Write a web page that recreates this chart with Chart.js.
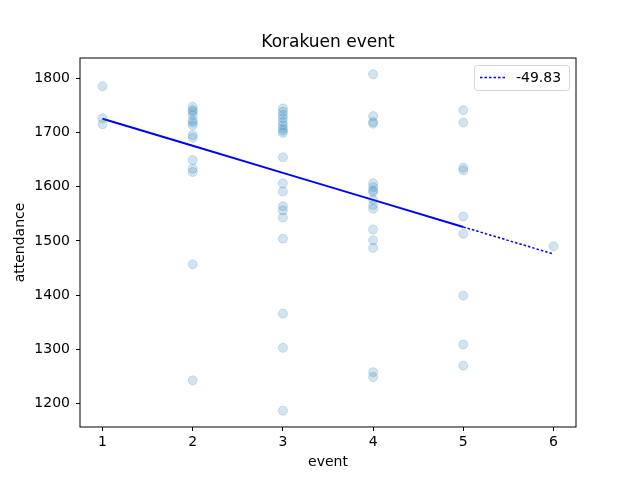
<!DOCTYPE html>
<html>
<head>
<meta charset="utf-8">
<script src="https://cdn.jsdelivr.net/npm/chart.js@4.4.0/dist/chart.umd.min.js"></script>
<style>
  html, body { margin: 0; padding: 0; background: #fff; }
  #wrap { width: 640px; height: 480px; }
</style>
</head>
<body>
<div id="wrap"><canvas id="eventChart"></canvas></div>
<script>
// attendance per match, grouped by event number
const events = [1, 2, 3, 4, 5, 6];
const attendanceByEvent = [
    [1785, 1726, 1715],
    [1747, 1741, 1738, 1732, 1722, 1718, 1713, 1695, 1690, 1649, 1633, 1627, 1457, 1243],
    [1744, 1738, 1732, 1726, 1719, 1713, 1707, 1703, 1699, 1654, 1606, 1591, 1564, 1556, 1543, 1504, 1366, 1303, 1187],
    [1807, 1730, 1719, 1716, 1606, 1599, 1593, 1590, 1576, 1566, 1559, 1521, 1501, 1487, 1258, 1249],
    [1741, 1718, 1635, 1630, 1545, 1513, 1399, 1309, 1270],
    [1490]
];
const slope = -49.83;
const intercept = 1774.8;
const xTicks = [1, 2, 3, 4, 5, 6];
const yTicks = [1200, 1300, 1400, 1500, 1600, 1700, 1800];

const FONT = "'DejaVu Sans', sans-serif";

const scatterPts = [];
events.forEach((ev, i) => {
    attendanceByEvent[i].forEach(v => scatterPts.push({ x: ev, y: v }));
});
const fitPts = events.map(x => ({ x: x, y: intercept + slope * x }));

// title, frame round the plot and the legend box
const framePlugin = {
    id: 'frame',
    afterDraw(chart) {
        const { ctx, chartArea: a } = chart;
        ctx.save();
        ctx.fillStyle = '#000';
        ctx.font = '17px ' + FONT;
        ctx.textAlign = 'center';
        ctx.textBaseline = 'middle';
        ctx.fillText('Korakuen event', (a.left + a.right) / 2, 43);

        ctx.strokeStyle = '#000';
        ctx.lineWidth = 1;
        ctx.strokeRect(a.left, a.top, a.right - a.left, a.bottom - a.top);

        const bx = 474.5, by = 65.5, bw = 95, bh = 25;
        ctx.fillStyle = 'rgba(255,255,255,0.8)';
        ctx.strokeStyle = '#d6d6d6';
        ctx.beginPath();
        ctx.roundRect(bx, by, bw, bh, 3);
        ctx.fill();
        ctx.stroke();
        ctx.strokeStyle = '#0000ff';
        ctx.lineWidth = 1.5;
        ctx.setLineDash([2.5, 2]);
        ctx.beginPath();
        ctx.moveTo(480, 77.5);
        ctx.lineTo(507, 77.5);
        ctx.stroke();
        ctx.setLineDash([]);
        ctx.fillStyle = '#000';
        ctx.font = '14px ' + FONT;
        ctx.textAlign = 'left';
        ctx.fillText(slope.toFixed(2), 516, 78);
        ctx.restore();
    }
};

new Chart(document.getElementById('eventChart'), {
    type: 'scatter',
    data: {
        datasets: [{
            label: 'attendance',
            data: scatterPts,
            backgroundColor: 'rgba(31,119,180,0.2)',
            borderColor: 'rgba(31,119,180,0.2)',
            borderWidth: 1,
            pointRadius: 4.5,
            pointHoverRadius: 4.5
        }, {
            type: 'line',
            label: slope.toFixed(2),
            data: fitPts,
            borderColor: '#0000ff',
            borderWidth: 1.5,
            borderDash: [2.5, 2],
            pointRadius: 0,
            fill: false,
            segment: {
                // the fit was drawn over every point, so up to 5 the dashes overlap into a solid line
                borderDash: c => c.p1.parsed.x <= 5 ? [] : [2.5, 2],
                borderWidth: c => c.p1.parsed.x <= 5 ? 2 : 1.5
            }
        }]
    },
    options: {
        responsive: true,
        maintainAspectRatio: false,
        animation: false,
        layout: { padding: { left: 0, right: 64, top: 58, bottom: 0 } },
        plugins: {
            legend: { display: false },
            tooltip: { enabled: false },
            title: { display: false }
        },
        scales: {
            x: {
                type: 'linear',
                min: 0.75,
                max: 6.25,
                afterBuildTicks: s => { s.ticks = xTicks.map(v => ({ value: v })); },
                afterFit: s => { s.height = 53; },
                grid: { drawOnChartArea: false, tickLength: 4, color: '#000' },
                border: { display: false },
                ticks: { color: '#000', padding: 3, maxRotation: 0, font: { family: FONT, size: 14 },
                    callback: v => String(v) },
                title: {
                    display: true, text: 'event', color: '#000',
                    font: { family: FONT, size: 14 }, padding: { top: 0, bottom: 9 }
                }
            },
            y: {
                min: 1157,
                max: 1837,
                afterBuildTicks: s => { s.ticks = yTicks.map(v => ({ value: v })); },
                afterFit: s => { s.width = 80; },
                grid: { drawOnChartArea: false, tickLength: 4, color: '#000' },
                border: { display: false },
                ticks: { color: '#000', padding: 6, font: { family: FONT, size: 14 },
                    callback: v => String(v) },
                title: {
                    display: true, text: 'attendance', color: '#000',
                    font: { family: FONT, size: 14 }, padding: { top: 12, bottom: 0 }
                }
            }
        }
    },
    plugins: [framePlugin]
});
</script>
</body>
</html>
